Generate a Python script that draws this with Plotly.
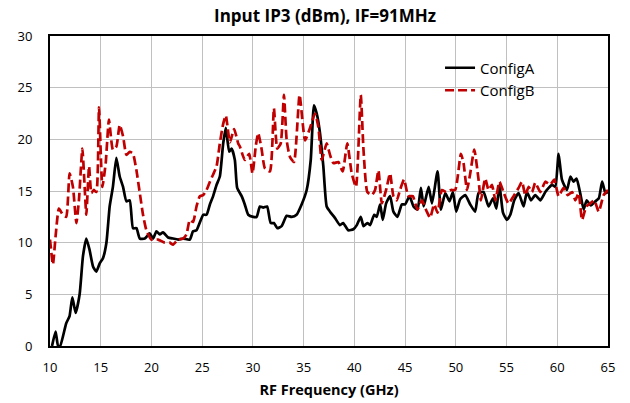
import plotly.graph_objects as go

# ConfigA (black solid)
freq_a = [10.2,10.55,10.8,11.0,11.6,11.93,12.2,12.53,12.92,13.25,13.58,13.9,14.24,14.57,14.9,15.22,15.56,15.88,16.2,16.54,
          16.87,17.2,17.53,17.86,18.18,18.52,18.85,19.34,19.83,20.16,20.49,20.82,21.14,21.64,22.13,22.63,23.12,23.78,24.1,24.44,
          25.1,25.43,25.76,26.08,26.42,26.74,27.07,27.33,27.66,27.9,28.22,28.45,28.89,29.2,29.54,30.03,30.37,30.69,31.02,31.4,
          31.75,32.07,32.4,32.83,33.33,33.82,34.3,34.8,35.3,35.7,36.02,36.29,36.6,36.94,37.27,37.6,38.08,38.58,38.9,39.4,
          39.9,40.24,40.63,40.9,41.28,41.55,41.95,42.2,42.54,42.8,43.13,43.52,43.85,44.25,44.68,45.0,45.44,45.83,46.22,46.56,
          46.83,47.32,47.65,48.2,48.53,48.96,49.38,49.71,50.04,50.43,50.93,51.42,51.9,52.24,52.73,53.23,53.66,54.0,54.3,54.65,
          55.04,55.37,55.76,56.19,56.68,57.01,57.41,57.83,58.33,58.82,59.15,59.48,59.8,60.13,60.46,60.95,61.3,61.6,61.9,62.26,
          62.6,62.9,63.3,63.75,64.1,64.42,64.75,65.0]
iip3_a = [0,1.4,0,0,2.2,2.9,4.7,3.2,5.0,8.7,10.4,9.3,7.7,7.2,8.0,8.5,10.0,13.5,15.4,18.2,
          16.4,15.4,14.0,14.1,11.4,11.4,10.4,10.4,10.9,10.4,11.1,10.8,11.0,10.5,10.4,10.3,10.4,10.3,11.1,11.2,
          12.7,12.7,13.7,14.5,15.6,16.4,19.6,21.1,18.8,19.1,18.0,15.3,14.5,13.7,12.7,12.5,12.5,13.5,13.4,13.5,
          11.9,11.9,11.4,11.6,12.6,12.5,12.7,13.7,15.1,18.0,23.3,22.5,20.7,17.4,13.5,13.0,12.4,11.7,11.9,11.2,
          11.3,11.7,12.5,11.6,11.9,11.7,12.7,12.5,13.7,12.2,13.8,14.5,13.0,12.5,13.7,13.7,14.5,13.5,13.2,15.3,
          13.5,15.4,13.8,16.9,13.2,14.8,14.0,14.9,13.0,14.2,14.6,13.7,13.0,14.8,14.9,13.5,14.3,13.3,15.6,12.9,
          12.2,12.7,14.1,14.8,13.5,14.9,14.1,14.6,14.1,14.9,15.3,15.6,15.4,18.6,16.1,15.1,16.4,15.9,16.2,14.8,
          13.2,14.1,13.6,14.0,14.3,15.9,14.8,14.9]

# ConfigB (red dashed)
freq_b = [10.0,10.29,10.55,10.88,11.27,11.6,11.93,12.26,12.6,12.85,13.19,13.42,13.58,13.85,14.08,14.3,14.57,14.83,15.16,15.49,
          15.81,16.2,16.54,16.87,17.2,17.53,17.86,18.18,18.52,18.85,19.17,19.5,20.0,20.65,21.31,21.8,22.13,22.63,23.12,23.45,
          23.78,24.1,24.44,24.77,25.1,25.43,25.76,26.08,26.42,26.74,27.07,27.33,27.73,28.15,28.55,28.72,29.2,29.63,29.96,30.29,
          30.52,30.85,31.18,31.68,32.07,32.4,32.74,33.06,33.33,33.65,34.05,34.6,35.14,35.63,36.12,36.45,36.78,37.27,37.6,37.93,
          38.42,38.85,39.3,39.74,40.16,40.63,40.9,41.28,41.72,42.04,42.37,42.71,43.13,43.52,43.85,44.18,44.5,44.9,45.32,45.76,
          46.22,46.65,47.14,47.47,47.86,48.2,48.63,49.05,49.52,49.94,50.5,50.76,51.1,51.42,51.82,52.24,52.47,52.9,53.23,53.56,
          53.9,54.3,54.7,55.19,55.69,56.19,56.52,56.85,57.18,57.51,57.83,58.33,58.82,59.31,59.7,60.13,60.62,61.02,61.46,61.78,
          62.11,62.44,62.86,63.26,63.65,64.08,64.57,65.0]
iip3_b = [10.3,7.9,10.6,13.3,12.7,12.5,16.7,15.4,11.9,14.1,19.1,15.3,12.7,17.4,14.8,15.1,14.9,23.1,15.4,17.7,
          21.9,19.0,19.3,21.4,20.3,18.5,18.8,18.6,17.0,14.8,12.7,11.2,10.3,10.3,10.0,10.0,9.8,10.3,10.4,10.8,
          12.2,12.0,13.5,14.5,14.6,15.1,15.9,16.6,17.4,19.6,21.5,22.3,19.7,21.0,19.6,19.3,18.0,18.6,16.7,19.4,
          20.6,19.1,17.2,16.9,23.0,19.1,19.6,24.3,19.9,18.3,17.8,24.3,19.9,21.1,22.5,21.2,18.0,19.6,18.5,17.7,
          17.8,16.9,19.6,16.7,15.4,24.3,19.0,14.9,14.6,15.1,17.0,13.8,15.1,16.7,14.5,14.1,15.1,16.1,14.5,14.5,
          13.2,14.1,13.0,12.4,13.7,12.9,15.1,14.9,15.1,15.1,18.6,17.7,15.1,16.7,19.0,16.1,14.1,16.2,15.1,15.6,
          14.1,15.9,14.9,13.8,14.5,15.3,15.9,14.6,15.4,14.9,15.8,14.9,15.9,15.6,16.1,14.5,15.3,14.6,14.9,14.1,
          14.8,12.2,13.5,13.8,14.1,13.0,14.6,15.1]

x_ticks = [10, 15, 20, 25, 30, 35, 40, 45, 50, 55, 60, 65]
y_ticks = [0, 5, 10, 15, 20, 25, 30]

FONT = "'Open Sans', sans-serif"

fig = go.Figure()
fig.add_trace(go.Scatter(x=freq_a, y=iip3_a, mode="lines", name="ConfigA",
                         line=dict(color="black", width=2.7, shape="spline", smoothing=0.5)))
fig.add_trace(go.Scatter(x=freq_b, y=iip3_b, mode="lines", name="ConfigB",
                         line=dict(color="#c00000", width=2.7, dash="9px,4px", shape="spline", smoothing=0.5)))

fig.update_layout(
    width=630, height=403,
    margin=dict(l=50.4, r=22, t=35.7, b=56.5),
    paper_bgcolor="white", plot_bgcolor="white",
    font=dict(family=FONT, size=13, color="black"),
    title=dict(text="<b>Input IP3 (dBm), IF=91MHz</b>", x=0.516, xanchor="center",
               y=0.961, yanchor="middle", font=dict(size=17, family=FONT)),
    legend=dict(x=0.699, y=0.950, xanchor="left", yanchor="top", bgcolor="rgba(0,0,0,0)",
                font=dict(size=15)),
    showlegend=True,
)
fig.update_xaxes(range=[10, 65], tickvals=x_ticks, ticktext=[str(v) for v in x_ticks],
                 showgrid=True, gridcolor="#c0c0c0", gridwidth=1,
                 showline=True, linecolor="black", linewidth=2, mirror=True,
                 ticks="", zeroline=False, ticklabelstandoff=8, automargin=False,
                 title=dict(text="<b>RF Frequency (GHz)</b>", font=dict(size=14.5), standoff=10))
fig.update_yaxes(range=[0, 30], tickvals=y_ticks, ticktext=[str(v) for v in y_ticks],
                 showgrid=True, gridcolor="#c0c0c0", gridwidth=1,
                 showline=True, linecolor="black", linewidth=2, mirror=True,
                 ticks="", zeroline=False, ticklabelstandoff=13, automargin=False)

fig.write_html("out.html", config={"displayModeBar": False},
               post_script="document.body.style.margin='0px';")
